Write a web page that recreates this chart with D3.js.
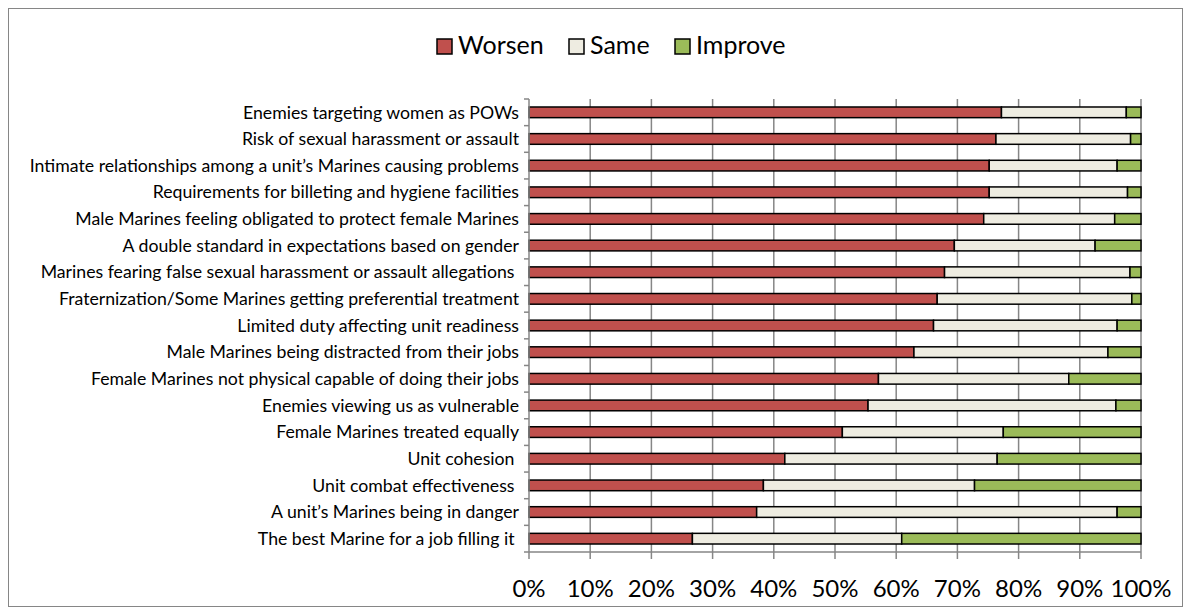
<!DOCTYPE html>
<html><head><meta charset="utf-8">
<script src="https://cdn.jsdelivr.net/npm/d3@7"></script>
<style>
body{margin:0;background:#fff;}
text{font-family:Lato, "Open Sans", sans-serif;fill:#000;white-space:pre;}
</style></head>
<body><svg id="c" width="1191" height="615"></svg>
<script>
const categories = [
 "Enemies targeting women as POWs",
 "Risk of sexual harassment or assault",
 "Intimate relationships among a unit\u2019s Marines causing problems",
 "Requirements for billeting and hygiene facilities",
 "Male Marines feeling obligated to protect female Marines",
 "A double standard in expectations based on gender",
 "Marines fearing false sexual harassment or assault allegations ",
 "Fraternization/Some Marines getting preferential treatment",
 "Limited duty affecting unit readiness",
 "Male Marines being distracted from their jobs",
 "Female Marines not physical capable of doing their jobs",
 "Enemies viewing us as vulnerable",
 "Female Marines treated equally",
 "Unit cohesion ",
 "Unit combat effectiveness ",
 "A unit\u2019s Marines being in danger",
 "The best Marine for a job filling it "
];
const worsen  = [77.2, 76.3, 75.2, 75.2, 74.3, 69.5, 67.9, 66.7, 66.1, 62.9, 57.1, 55.4, 51.2, 41.8, 38.3, 37.2, 26.7];
const same    = [20.4, 22.0, 20.9, 22.6, 21.4, 23.0, 30.3, 31.8, 30.0, 31.7, 31.1, 40.5, 26.3, 34.7, 34.5, 58.9, 34.2];
const improve = [2.4, 1.7, 3.9, 2.2, 4.3, 7.5, 1.8, 1.5, 3.9, 5.4, 11.8, 4.1, 22.5, 23.5, 27.2, 3.9, 39.1];
const seriesNames = ["Worsen", "Same", "Improve"];
const seriesColors = ["#C0504D", "#EEECE1", "#9BBB59"];
const xTicks = [0, 0.1, 0.2, 0.3, 0.4, 0.5, 0.6, 0.7, 0.8, 0.9, 1.0];

(function(){
const svg = d3.select("#c");
svg.append("rect").attr("x",8.5).attr("y",8.5).attr("width",1174).attr("height",598)
  .attr("fill","#fff").attr("stroke","#868686").attr("stroke-width",1);

const pL = 529, pR = 1141, pT = 99, pB = 552;
const x = d3.scaleLinear().domain([0,1]).range([pL,pR]);
const y = d3.scaleBand().domain(categories).range([pT,pB]).paddingInner(0.6).paddingOuter(0.3);

svg.append("g").selectAll("line").data(xTicks.slice(1)).join("line")
  .attr("x1",d=>x(d)).attr("x2",d=>x(d)).attr("y1",pT).attr("y2",pB)
  .attr("stroke","#868686").attr("stroke-width",1.5);

const rows = categories.map((c,i)=>({cat:c, Worsen:worsen[i], Same:same[i], Improve:improve[i]}));
const stack = d3.stack().keys(seriesNames).offset(d3.stackOffsetExpand);
const layers = stack(rows);
svg.append("g").selectAll("g").data(layers).join("g")
  .attr("fill",(d,i)=>seriesColors[i])
  .selectAll("rect").data(d=>d).join("rect")
  .attr("x",d=>x(d[0])).attr("width",d=>x(d[1])-x(d[0]))
  .attr("y",d=>y(d.data.cat)).attr("height",y.bandwidth())
  .attr("stroke","#000").attr("stroke-width",1.5);

const step = y.step();
const yg = svg.append("g");
yg.append("line").attr("x1",pL).attr("x2",pL).attr("y1",pT).attr("y2",pB)
  .attr("stroke","#868686").attr("stroke-width",1.5);
yg.selectAll("line.t").data(d3.range(categories.length+1)).join("line").attr("class","t")
  .attr("x1",pL-5).attr("x2",pL).attr("y1",i=>pT+i*step).attr("y2",i=>pT+i*step)
  .attr("stroke","#868686").attr("stroke-width",1.5);
yg.selectAll("text").data(categories).join("text")
  .attr("x",519).attr("y",d=>y(d)+y.bandwidth()/2).attr("dy","0.35em")
  .attr("text-anchor","end").attr("font-size",17.7).text(d=>d);

const xg = svg.append("g");
xg.append("line").attr("x1",pL).attr("x2",pR).attr("y1",pB).attr("y2",pB)
  .attr("stroke","#868686").attr("stroke-width",1.5);
xg.selectAll("line.t").data(xTicks).join("line").attr("class","t")
  .attr("x1",d=>x(d)).attr("x2",d=>x(d)).attr("y1",pB).attr("y2",pB+7)
  .attr("stroke","#868686").attr("stroke-width",1.5);
xg.selectAll("text").data(xTicks).join("text")
  .attr("x",d=>x(d)).attr("y",597).attr("text-anchor","middle").attr("font-size",24)
  .text(d3.format(".0%"));

const legX = [437, 569, 675];
const lg = svg.append("g").selectAll("g").data(seriesNames).join("g")
  .attr("transform",(d,i)=>`translate(${legX[i]},39)`);
lg.append("rect").attr("width",15).attr("height",15).attr("fill",(d,i)=>seriesColors[i])
  .attr("stroke","#000").attr("stroke-width",1.5);
lg.append("text").attr("x",21).attr("y",15).attr("font-size",25).text(d=>d);
})();
</script></body></html>
